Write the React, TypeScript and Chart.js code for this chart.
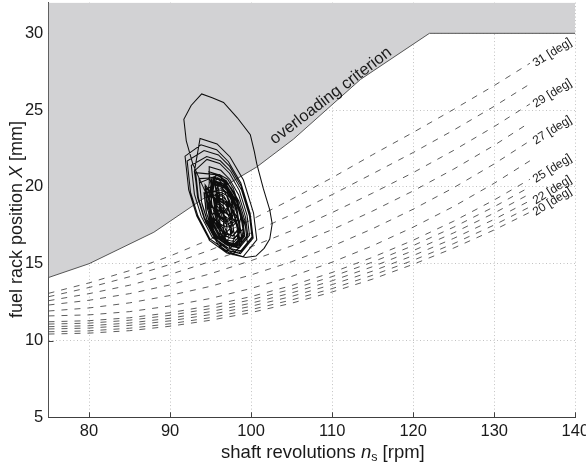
import React, { useEffect, useRef } from 'react';
import { Chart, registerables } from 'chart.js';

Chart.register(...registerables);

const FONT = '"Liberation Sans", Arial, Helvetica, sans-serif';

// axis ticks
const xTicks = [80, 90, 100, 110, 120, 130, 140];
const yTicks = [5, 10, 15, 20, 25, 30];

// overloading criterion boundary
const boundaryRpm = [75, 80, 88, 94, 100.7, 105.2, 113.5, 122, 140];
const boundaryRack = [14.1, 15.0, 17.05, 19.2, 21.3, 23.1, 27.0, 30.0, 30.0];

// constant pitch-angle curves
const rpmGrid = [75, 80, 85, 90, 95, 100, 105, 110, 115, 120, 125, 130, 134.4];
const pitchAngles = [20, 21, 22, 23, 24, 25, 26, 27, 28, 29, 30, 31];
const labelledAngles = [31, 29, 27, 25, 22, 20];
const rack20 = [10.42, 10.48, 10.64, 10.93, 11.32, 11.82, 12.43, 13.16, 14.0, 14.96, 16.02, 17.2, 18.35];
const rack21 = [10.57, 10.63, 10.8, 11.09, 11.49, 12.01, 12.64, 13.38, 14.25, 15.22, 16.31, 17.52, 18.7];
const rack22 = [10.75, 10.81, 10.98, 11.28, 11.69, 12.23, 12.87, 13.64, 14.52, 15.53, 16.65, 17.89, 19.1];
const rack23 = [10.9, 10.96, 11.14, 11.45, 11.88, 12.43, 13.1, 13.89, 14.81, 15.85, 17.01, 18.3, 19.55];
const rack24 = [11.07, 11.13, 11.32, 11.64, 12.08, 12.65, 13.34, 14.16, 15.11, 16.18, 17.38, 18.71, 20.0];
const rack25 = [11.22, 11.29, 11.48, 11.81, 12.27, 12.86, 13.58, 14.43, 15.42, 16.53, 17.77, 19.15, 20.5];
const rack26 = [11.6, 11.67, 11.88, 12.25, 12.74, 13.39, 14.17, 15.1, 16.17, 17.38, 18.73, 20.24, 21.7];
const rack27 = [11.92, 12.12, 12.45, 12.93, 13.53, 14.27, 15.13, 16.14, 17.28, 18.55, 19.95, 21.5, 23.0];
const rack28 = [12.31, 12.62, 13.05, 13.62, 14.35, 15.2, 16.16, 17.22, 18.43, 19.74, 21.16, 22.71, 24.2];
const rack29 = [12.59, 13.05, 13.6, 14.3, 15.15, 16.1, 17.15, 18.33, 19.6, 20.93, 22.38, 23.93, 25.4];
const rack30 = [12.85, 13.45, 14.15, 14.95, 15.9, 17.0, 18.2, 19.5, 20.86, 22.24, 23.7, 25.25, 26.7];
const rack31 = [13.07, 13.75, 14.55, 15.5, 16.6, 17.85, 19.2, 20.6, 22.1, 23.55, 25.05, 26.6, 28.05];
const pitchRacks = [rack20, rack21, rack22, rack23, rack24, rack25, rack26, rack27, rack28, rack29, rack30, rack31];

// measured operating trajectory [rpm, rack]
const trajectory: [number, number][] = [
  [96.0, 18.0], [94.5, 19.5], [92.8, 21.5], [92.0, 23.0], [91.7, 24.4], [92.6, 25.3], [93.9, 26.05], [95.2, 25.8], [96.6, 25.5], [98.3, 24.5], [99.9, 23.4], [100.4, 22.3], [100.7, 21.5], [101.5, 19.9], [102.3, 18.5], [102.6, 17.6], [102.3, 16.6], [101.6, 16.0], [100.6, 15.5], [99.3, 15.4], [97.6, 15.7], [95.8, 16.5], [94.4, 17.7], [93.5, 19.2], [93.0, 21.0],
  [93.7, 23.15], [95.8, 22.8], [97.4, 21.95], [99.05, 20.45], [100.3, 18.3], [100.7, 16.55], [99.0, 15.45], [97.0, 15.7], [94.9, 16.5], [93.3, 18.1], [92.3, 19.8], [91.85, 22.0],
  [93.81, 22.74], [95.74, 22.42], [97.21, 21.64], [98.73, 20.26], [99.88, 18.28], [100.25, 16.67], [98.68, 15.66], [96.84, 15.89], [94.91, 16.62], [93.44, 18.1], [92.52, 19.66], [92.11, 21.68],
  [94.19, 22.37], [95.97, 22.08], [97.34, 21.35], [98.74, 20.08], [99.8, 18.25], [100.14, 16.76], [98.7, 15.83], [97.0, 16.04], [95.21, 16.72], [93.85, 18.08], [93.0, 19.53], [92.62, 21.4],
  [94.52, 21.98], [96.2, 21.7], [97.48, 21.02], [98.8, 19.82], [99.8, 18.1], [100.12, 16.7], [98.76, 15.82], [97.16, 16.02], [95.48, 16.66], [94.2, 17.94], [93.4, 19.3], [93.04, 21.06],
  [94.55, 21.79], [96.12, 21.53], [97.33, 20.89], [98.56, 19.76], [99.5, 18.15], [99.8, 16.84], [98.53, 16.01], [97.03, 16.2], [95.45, 16.8], [94.25, 18.0], [93.5, 19.28], [93.16, 20.93],
  [95.63, 20.8], [96.93, 20.41], [97.84, 19.63], [98.62, 18.46], [99.01, 17.16], [98.69, 16.12], [97.71, 15.6], [96.54, 15.92], [95.56, 16.77], [94.85, 17.94], [94.52, 19.18], [94.85, 20.28],
  [94.83, 21.32], [96.26, 21.08], [97.35, 20.5], [98.47, 19.48], [99.32, 18.02], [99.59, 16.83], [98.44, 16.08], [97.08, 16.25], [95.65, 16.8], [94.56, 17.88], [93.88, 19.04], [93.57, 20.54],
  [95.71, 20.6], [96.81, 20.27], [97.58, 19.61], [98.24, 18.62], [98.57, 17.52], [98.3, 16.64], [97.47, 16.2], [96.48, 16.47], [95.65, 17.19], [95.05, 18.18], [94.77, 19.23], [95.05, 20.16],
  [94.79, 20.99], [96.09, 20.77], [97.08, 20.24], [98.11, 19.31], [98.88, 17.98], [99.13, 16.89], [98.07, 16.21], [96.83, 16.37], [95.53, 16.86], [94.54, 17.86], [93.92, 18.91], [93.64, 20.27],
  [96.1, 20.8], [97.1, 20.5], [97.8, 19.9], [98.4, 19.0], [98.7, 18.0], [98.45, 17.2], [97.7, 16.8], [96.8, 17.05], [96.05, 17.7], [95.5, 18.6], [95.25, 19.55], [95.5, 20.4],
  [95.34, 20.31], [96.6, 20.1], [97.56, 19.59], [98.55, 18.69], [99.3, 17.4], [99.54, 16.35], [98.52, 15.69], [97.32, 15.84], [96.06, 16.32], [95.1, 17.28], [94.5, 18.3], [94.23, 19.62],
  [96.29, 19.8], [97.19, 19.53], [97.82, 18.99], [98.36, 18.18], [98.63, 17.28], [98.41, 16.56], [97.73, 16.2], [96.92, 16.42], [96.24, 17.01], [95.75, 17.82], [95.52, 18.68], [95.75, 19.44],
  [95.39, 20.63], [96.61, 20.43], [97.54, 19.94], [98.5, 19.07], [99.22, 17.82], [99.45, 16.8], [98.47, 16.17], [97.31, 16.31], [96.09, 16.78], [95.16, 17.7], [94.58, 18.69], [94.32, 19.97],
  [95.59, 19.4], [96.49, 19.13], [97.12, 18.59], [97.66, 17.78], [97.93, 16.88], [97.71, 16.16], [97.03, 15.8], [96.22, 16.02], [95.54, 16.61], [95.05, 17.42], [94.82, 18.28], [95.05, 19.04],
  [95.37, 20.42], [96.52, 20.23], [97.41, 19.76], [98.31, 18.93], [99.0, 17.75], [99.22, 16.79], [98.29, 16.18], [97.19, 16.32], [96.03, 16.76], [95.15, 17.64], [94.6, 18.58], [94.35, 19.79],
  [95.58, 20.2], [96.38, 19.96], [96.94, 19.48], [97.42, 18.76], [97.66, 17.96], [97.46, 17.32], [96.86, 17.0], [96.14, 17.2], [95.54, 17.72], [95.1, 18.44], [94.9, 19.2], [95.1, 19.88],
  [95.15, 20.2], [96.24, 20.02], [97.07, 19.58], [97.93, 18.8], [98.58, 17.68], [98.79, 16.77], [97.9, 16.2], [96.86, 16.33], [95.77, 16.74], [94.94, 17.58], [94.42, 18.46], [94.19, 19.6],
  [96.67, 18.9], [97.37, 18.69], [97.86, 18.27], [98.28, 17.64], [98.49, 16.94], [98.32, 16.38], [97.79, 16.1], [97.16, 16.27], [96.63, 16.73], [96.25, 17.36], [96.07, 18.03], [96.25, 18.62],
  [95.6, 20.13], [96.65, 19.95], [97.45, 19.53], [98.28, 18.78], [98.9, 17.7], [99.1, 16.82], [98.25, 16.27], [97.25, 16.4], [96.2, 16.8], [95.4, 17.6], [94.9, 18.45], [94.67, 19.55],
  [95.87, 20.6], [96.57, 20.39], [97.06, 19.97], [97.48, 19.34], [97.69, 18.64], [97.52, 18.08], [96.99, 17.8], [96.36, 17.97], [95.83, 18.43], [95.45, 19.06], [95.27, 19.73], [95.45, 20.32],
  [95.3, 20.37], [96.27, 20.21], [97.01, 19.82], [97.77, 19.13], [98.34, 18.14], [98.52, 17.33], [97.74, 16.83], [96.82, 16.94], [95.86, 17.31], [95.12, 18.05], [94.66, 18.83], [94.45, 19.84],
  [96.45, 19.6], [96.95, 19.45], [97.3, 19.15], [97.6, 18.7], [97.75, 18.2], [97.63, 17.8], [97.25, 17.6], [96.8, 17.72], [96.42, 18.05], [96.15, 18.5], [96.02, 18.98], [96.15, 19.4],
  [95.83, 20.23], [96.77, 20.08], [97.5, 19.69], [98.24, 19.02], [98.8, 18.05], [98.98, 17.26], [98.22, 16.77], [97.32, 16.88], [96.37, 17.24], [95.65, 17.96], [95.2, 18.73], [95.0, 19.72],
  [95.46, 19.0], [96.06, 18.82], [96.48, 18.46], [96.84, 17.92], [97.02, 17.32], [96.87, 16.84], [96.42, 16.6], [95.88, 16.75], [95.43, 17.14], [95.1, 17.68], [94.95, 18.25], [95.1, 18.76],
  [95.11, 20.62], [95.99, 20.47], [96.66, 20.11], [97.36, 19.48], [97.88, 18.58], [98.05, 17.84], [97.33, 17.38], [96.49, 17.49], [95.61, 17.82], [94.94, 18.5], [94.52, 19.21], [94.33, 20.13],
  [97.06, 18.2], [97.66, 18.02], [98.08, 17.66], [98.44, 17.12], [98.62, 16.52], [98.47, 16.04], [98.02, 15.8], [97.48, 15.95], [97.03, 16.34], [96.7, 16.88], [96.55, 17.45], [96.7, 17.96],
  [95.56, 19.54], [96.4, 19.4], [97.04, 19.06], [97.7, 18.46], [98.2, 17.6], [98.36, 16.9], [97.68, 16.46], [96.88, 16.56], [96.04, 16.88], [95.4, 17.52], [95.0, 18.2], [94.82, 19.08],
  [95.66, 20.8], [96.26, 20.62], [96.68, 20.26], [97.04, 19.72], [97.22, 19.12], [97.07, 18.64], [96.62, 18.4], [96.08, 18.55], [95.63, 18.94], [95.3, 19.48], [95.15, 20.05], [95.3, 20.56],
  [96.21, 19.06], [97.01, 18.93], [97.62, 18.61], [98.25, 18.04], [98.72, 17.22], [98.87, 16.55], [98.23, 16.14], [97.47, 16.23], [96.67, 16.54], [96.06, 17.14], [95.68, 17.79], [95.51, 18.63],
  [95.89, 20.15], [96.62, 20.03], [97.19, 19.73], [97.76, 19.2], [98.2, 18.45], [98.34, 17.84], [97.75, 17.45], [97.05, 17.54], [96.31, 17.82], [95.75, 18.38], [95.4, 18.98], [95.24, 19.75],
  [96.33, 19.5], [96.63, 19.41], [96.84, 19.23], [97.02, 18.96], [97.11, 18.66], [97.04, 18.42], [96.81, 18.3], [96.54, 18.37], [96.31, 18.57], [96.15, 18.84], [96.07, 19.13], [96.15, 19.38],
  [96.14, 19.17], [96.83, 19.06], [97.36, 18.77], [97.91, 18.28], [98.32, 17.57], [98.45, 16.99], [97.89, 16.63], [97.23, 16.71], [96.54, 16.98], [96.01, 17.5], [95.68, 18.07], [95.53, 18.79],
  [95.52, 19.06], [96.15, 18.95], [96.63, 18.7], [97.13, 18.25], [97.5, 17.6], [97.62, 17.07], [97.11, 16.74], [96.51, 16.82], [95.88, 17.06], [95.4, 17.54], [95.1, 18.05], [94.96, 18.71],
  [96.88, 18.32], [97.24, 18.21], [97.49, 18.0], [97.7, 17.67], [97.81, 17.31], [97.72, 17.02], [97.45, 16.88], [97.13, 16.97], [96.86, 17.2], [96.66, 17.53], [96.57, 17.87], [96.66, 18.18],
  [96.37, 19.98], [96.96, 19.88], [97.41, 19.64], [97.87, 19.22], [98.22, 18.62], [98.33, 18.13], [97.86, 17.82], [97.3, 17.89], [96.71, 18.12], [96.26, 18.56], [95.98, 19.04], [95.85, 19.66],
  [95.75, 18.46], [96.27, 18.38], [96.68, 18.16], [97.09, 17.79], [97.4, 17.25], [97.5, 16.81], [97.08, 16.54], [96.58, 16.6], [96.05, 16.8], [95.65, 17.2], [95.4, 17.63], [95.29, 18.18],
  [96.08, 19.27], [96.5, 19.2], [96.82, 19.03], [97.15, 18.73], [97.4, 18.3], [97.48, 17.95], [97.14, 17.73], [96.74, 17.78], [96.32, 17.94], [96.0, 18.26], [95.8, 18.6], [95.71, 19.04],
];

const overloadText = 'overloading criterion';
const overloadAnchor = [102.9, 22.75];

function drawRich(ctx: CanvasRenderingContext2D, parts: { t: string; font: string; dy?: number }[], cx: number, baseline: number) {
  let total = 0;
  const widths = parts.map((p) => {
    ctx.font = p.font;
    const w = ctx.measureText(p.t).width;
    total += w;
    return w;
  });
  let x = cx - total / 2;
  parts.forEach((p, i) => {
    ctx.font = p.font;
    ctx.fillText(p.t, x, baseline + (p.dy || 0));
    x += widths[i];
  });
}

const decorPlugin = {
  id: 'decor',
  beforeDatasetsDraw(chart: any) {
    const { ctx, chartArea, scales } = chart;
    ctx.save();
    ctx.strokeStyle = '#404040';
    ctx.lineWidth = 1;
    ctx.beginPath();
    xTicks.forEach((v) => {
      const px = Math.round(scales.x.getPixelForValue(v)) + 0.5;
      ctx.moveTo(px, chartArea.bottom);
      ctx.lineTo(px, chartArea.bottom - 5);
    });
    yTicks.forEach((v) => {
      const py = Math.round(scales.y.getPixelForValue(v)) + 0.5;
      ctx.moveTo(chartArea.left, py);
      ctx.lineTo(chartArea.left + 5, py);
    });
    ctx.stroke();
    ctx.restore();
  },
  afterDatasetsDraw(chart: any) {
    const { ctx, scales } = chart;
    ctx.save();
    ctx.fillStyle = '#1a1a1a';
    ctx.font = `12px ${FONT}`;
    ctx.textBaseline = 'middle';
    ctx.textAlign = 'left';
    labelledAngles.forEach((a) => {
      const rack = pitchRacks[pitchAngles.indexOf(a)];
      const px = scales.x.getPixelForValue(rpmGrid[rpmGrid.length - 1]);
      const py = scales.y.getPixelForValue(rack[rack.length - 1]);
      ctx.save();
      ctx.translate(px + 4, py + 1);
      ctx.rotate((-32 * Math.PI) / 180);
      ctx.fillText(`${a} [deg]`, 0, 0);
      ctx.restore();
    });
    const ox = scales.x.getPixelForValue(overloadAnchor[0]);
    const oy = scales.y.getPixelForValue(overloadAnchor[1]);
    ctx.save();
    ctx.translate(ox, oy);
    ctx.rotate((-37.5 * Math.PI) / 180);
    ctx.font = `16.5px ${FONT}`;
    ctx.textBaseline = 'alphabetic';
    ctx.fillText(overloadText, 0, 0);
    ctx.restore();
    ctx.restore();
  },
  afterDraw(chart: any) {
    const { ctx, chartArea } = chart;
    ctx.save();
    ctx.fillStyle = '#1a1a1a';
    ctx.textBaseline = 'alphabetic';
    ctx.textAlign = 'left';
    const cx = (chartArea.left + chartArea.right) / 2 + 11;
    drawRich(
      ctx,
      [
        { t: 'shaft revolutions ', font: `18.5px ${FONT}` },
        { t: 'n', font: `italic 18.5px ${FONT}` },
        { t: 's', font: `12.5px ${FONT}`, dy: 3 },
        { t: ' [rpm]', font: `18.5px ${FONT}` },
      ],
      cx,
      458
    );
    ctx.save();
    ctx.translate(22, (chartArea.top + chartArea.bottom) / 2 + 9.5);
    ctx.rotate(-Math.PI / 2);
    drawRich(
      ctx,
      [
        { t: 'fuel rack position ', font: `18px ${FONT}` },
        { t: 'X', font: `italic 18px ${FONT}` },
        { t: ' [mm]', font: `18px ${FONT}` },
      ],
      0,
      0
    );
    ctx.restore();
    ctx.restore();
  },
};

export default function App() {
  const ref = useRef<HTMLCanvasElement | null>(null);
  useEffect(() => {
    if (!ref.current) return;
    const pitchSets = pitchRacks.map((rack, k) => ({
      label: `${pitchAngles[k]} deg`,
      data: rpmGrid.map((x, i) => ({ x, y: rack[i] })),
      borderColor: '#333333',
      borderWidth: 0.8,
      borderDash: [6, 7],
      pointRadius: 0,
      fill: false,
      tension: 0,
      order: 1,
    }));
    const chart = new Chart(ref.current, {
      type: 'line',
      data: {
        datasets: [
          {
            label: 'trajectory',
            data: trajectory.map(([x, y]) => ({ x, y })),
            borderColor: '#0d0d0d',
            borderWidth: 1.05,
            pointRadius: 0,
            fill: false,
            tension: 0,
            order: 0,
          },
          ...pitchSets,
          {
            label: 'overloading criterion',
            data: boundaryRpm.map((x, i) => ({ x, y: boundaryRack[i] })),
            borderColor: '#555555',
            borderWidth: 1,
            backgroundColor: 'rgb(210,210,212)',
            pointRadius: 0,
            fill: 'end',
            tension: 0,
            order: 2,
          },
        ] as any,
      },
      options: {
        responsive: false,
        animation: false,
        devicePixelRatio: 1,
        events: [],
        layout: { padding: { left: 0, top: 2.6, right: 10.7, bottom: 0 }, autoPadding: false } as any,
        plugins: { legend: { display: false }, tooltip: { enabled: false } },
        scales: {
          x: {
            type: 'linear',
            min: 75,
            max: 140,
            afterBuildTicks: (s: any) => {
              s.ticks = xTicks.map((v) => ({ value: v }));
            },
            afterFit: (s: any) => {
              s.height = 48.7;
              s.paddingLeft = 0;
              s.paddingRight = 0;
            },
            grid: { color: '#c2c2c2', lineWidth: 1, drawTicks: false },
            border: { display: true, color: '#404040', width: 1, dash: [1, 2.5] },
            ticks: {
              font: { family: FONT, size: 16.5 },
              color: '#1a1a1a',
              padding: 4,
              maxRotation: 0,
              autoSkip: false,
            },
          },
          y: {
            type: 'linear',
            min: 5,
            max: 32,
            afterBuildTicks: (s: any) => {
              s.ticks = yTicks.map((v) => ({ value: v }));
            },
            afterFit: (s: any) => {
              s.width = 48.5;
              s.paddingTop = 0;
              s.paddingBottom = 0;
            },
            grid: { color: '#c2c2c2', lineWidth: 1, drawTicks: false },
            border: { display: true, color: '#505050', width: 1, dash: [1, 2.5] },
            ticks: {
              font: { family: FONT, size: 16.5 },
              color: '#1a1a1a',
              padding: 5.2,
              autoSkip: false,
            },
          },
        } as any,
      },
      plugins: [decorPlugin],
    });
    return () => chart.destroy();
  }, []);
  return (
    <div style={{ position: 'absolute', left: 0, top: 0, width: 586, height: 466, background: '#fff' }}>
      <canvas ref={ref} width={586} height={466} style={{ display: 'block' }} />
    </div>
  );
}
